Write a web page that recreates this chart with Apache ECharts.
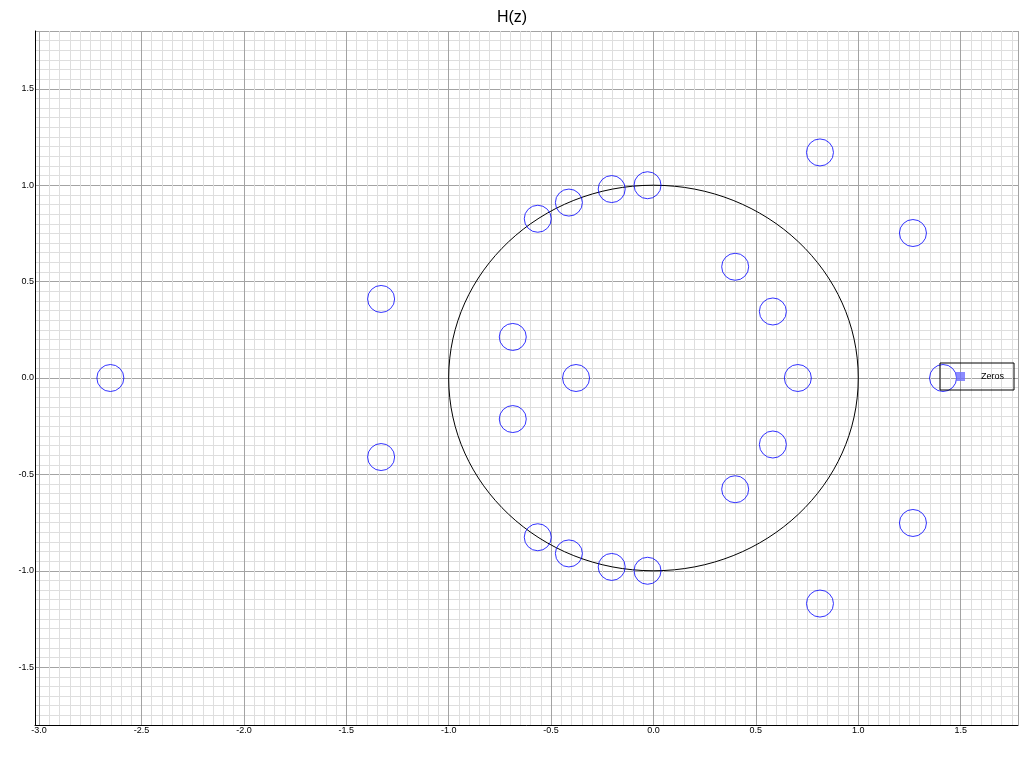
<!DOCTYPE html>
<html>
<head>
<meta charset="utf-8">
<script src="https://cdn.jsdelivr.net/npm/echarts@6/dist/echarts.min.js"></script>
<style>
html,body{margin:0;padding:0;background:#fff;}
#chart{width:1024px;height:760px;}
</style>
</head>
<body>
<div id="chart"></div>
<script>
// Zeros of H(z)
const zerosX = [-2.652, -1.330, -1.330, -0.687, -0.687, -0.378, -0.565, -0.565,
                -0.413, -0.413, -0.204, -0.204, -0.029, -0.029, 0.399, 0.399,
                0.583, 0.583, 0.705, 0.813, 0.813, 1.267, 1.267, 1.414];
const zerosY = [0.000, 0.410, -0.410, 0.213, -0.213, 0.000, 0.826, -0.826,
                0.910, -0.910, 0.980, -0.980, 1.000, -1.000, 0.577, -0.577,
                0.345, -0.345, 0.000, 1.170, -1.170, 0.752, -0.752, 0.000];
// Unit circle: centre x, centre y, radius
const unitCircle = [[0, 0, 1]];
const seriesName = 'Zeros';
const titleText = 'H(z)';

const zeroPoints = zerosX.map((x, i) => [x, zerosY[i]]);

const chart = echarts.init(document.getElementById('chart'), null, {renderer: 'canvas'});
const labelFont = 'Liberation Sans, Arial, sans-serif';

chart.setOption({
  animation: false,
  backgroundColor: '#ffffff',
  title: {
    text: titleText,
    left: 'center',
    top: 5,
    textStyle: {fontSize: 16, fontWeight: 'normal', color: '#000', fontFamily: labelFont}
  },
  legend: {
    data: [{name: seriesName, icon: 'rect', itemStyle: {color: '#6e6eff', borderWidth: 0}}],
    left: 940,
    top: 363,
    padding: [9, 10, 9, 16],
    itemWidth: 9,
    itemHeight: 9,
    borderColor: '#000',
    borderWidth: 1,
    backgroundColor: 'transparent',
    textStyle: {fontSize: 9, color: '#000', fontFamily: labelFont, padding: [3, 0, 0, 11]}
  },
  grid: {left: 35, right: 6, top: 31, bottom: 35, containLabel: false},
  xAxis: {
    type: 'value',
    min: -3.02,
    max: 1.78,
    splitNumber: 10,
    axisLine: {show: true, onZero: false, lineStyle: {color: '#000', width: 1}},
    axisTick: {show: false},
    minorTick: {show: false, splitNumber: 10},
    axisLabel: {
      fontSize: 9, color: '#000', fontFamily: labelFont, margin: 1,
      showMinLabel: false, showMaxLabel: false,
      formatter: v => v.toFixed(1)
    },
    splitLine: {show: true, lineStyle: {color: '#a3a3a3', width: 1}},
    minorSplitLine: {show: true, lineStyle: {color: '#dedede', width: 1}}
  },
  yAxis: {
    type: 'value',
    min: -1.8,
    max: 1.8,
    splitNumber: 7,
    axisLine: {show: true, onZero: false, lineStyle: {color: '#000', width: 1}},
    axisTick: {show: false},
    minorTick: {show: false, splitNumber: 10},
    axisLabel: {
      fontSize: 9, color: '#000', fontFamily: labelFont, margin: 1,
      showMinLabel: false, showMaxLabel: false,
      formatter: v => v.toFixed(1)
    },
    splitLine: {show: true, lineStyle: {color: '#a3a3a3', width: 1}},
    minorSplitLine: {show: true, lineStyle: {color: '#dedede', width: 1}}
  },
  series: [
    {
      type: 'custom',
      name: 'unit circle',
      data: unitCircle,
      clip: true,
      silent: true,
      z: 2,
      renderItem: function (params, api) {
        const c = api.coord([api.value(0), api.value(1)]);
        const s = api.size([api.value(2), api.value(2)]);
        return {
          type: 'ellipse',
          shape: {cx: c[0], cy: c[1], rx: s[0], ry: s[1]},
          style: {fill: 'none', stroke: '#000', lineWidth: 1}
        };
      }
    },
    {
      type: 'scatter',
      name: seriesName,
      data: zeroPoints,
      symbol: 'circle',
      symbolSize: 27,
      z: 3,
      itemStyle: {color: 'rgba(0,0,0,0)', borderColor: '#0000ff', borderWidth: 1}
    }
  ]
});
</script>
</body>
</html>
